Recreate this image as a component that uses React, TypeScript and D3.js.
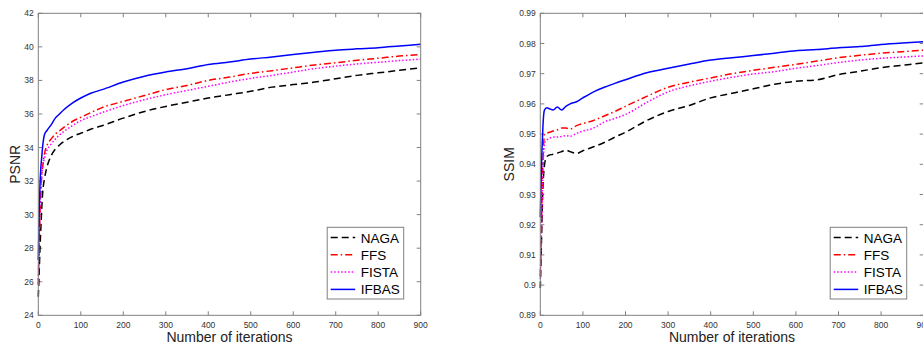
import React from 'react';
import * as d3 from 'd3';

const psnrIters = [0, 2, 4, 6, 8, 10, 15, 20, 30, 40, 50, 60, 80, 100, 125, 150, 200, 250, 300, 350, 400, 450, 500, 550, 600, 650, 700, 750, 800, 850, 900];
const psnrNaga = [25.1, 26.5, 28, 29.2, 30.3, 31.2, 32.2, 32.8, 33.5, 33.9, 34.15, 34.35, 34.65, 34.85, 35.1, 35.3, 35.75, 36.15, 36.45, 36.7, 36.95, 37.15, 37.35, 37.6, 37.75, 37.9, 38.1, 38.3, 38.45, 38.6, 38.76];
const psnrFfs = [25.8, 28, 30, 31.3, 32.3, 32.8, 33.7, 34.1, 34.5, 34.8, 35.0, 35.2, 35.55, 35.8, 36.1, 36.38, 36.75, 37.1, 37.45, 37.7, 38.0, 38.2, 38.42, 38.58, 38.75, 38.92, 39.05, 39.2, 39.32, 39.45, 39.55];
const psnrFista = [25.9, 28.5, 30.3, 31.5, 32.3, 32.8, 33.4, 33.8, 34.2, 34.5, 34.75, 34.95, 35.3, 35.6, 35.85, 36.08, 36.5, 36.85, 37.15, 37.4, 37.65, 37.9, 38.12, 38.3, 38.5, 38.7, 38.85, 38.98, 39.08, 39.18, 39.27];
const psnrIfbas = [27.3, 30, 31.8, 32.8, 33.4, 34.0, 34.8, 35.0, 35.35, 35.75, 36.0, 36.25, 36.65, 36.95, 37.25, 37.45, 37.9, 38.25, 38.5, 38.7, 38.95, 39.1, 39.27, 39.4, 39.55, 39.68, 39.8, 39.88, 39.95, 40.05, 40.15];

const ssimIters = [0, 2, 4, 6, 8, 10, 15, 20, 30, 40, 50, 60, 70, 85, 100, 125, 150, 175, 200, 250, 300, 350, 400, 450, 500, 550, 600, 650, 700, 750, 800, 850, 900];
const ssimNaga = [0.899, 0.91, 0.922, 0.932, 0.937, 0.94, 0.9425, 0.943, 0.9433, 0.9437, 0.9442, 0.9447, 0.9442, 0.9436, 0.9445, 0.9458, 0.9472, 0.949, 0.9506, 0.9545, 0.9575, 0.9595, 0.962, 0.9635, 0.965, 0.9665, 0.9675, 0.968, 0.9697, 0.9708, 0.972, 0.9728, 0.9736];
const ssimFfs = [0.903, 0.915, 0.928, 0.94, 0.947, 0.95, 0.9503, 0.9505, 0.951, 0.9514, 0.952, 0.952, 0.9517, 0.9528, 0.9535, 0.9545, 0.956, 0.9575, 0.9592, 0.9625, 0.9655, 0.9672, 0.9686, 0.97, 0.9711, 0.9721, 0.9731, 0.9742, 0.9753, 0.9761, 0.9768, 0.9773, 0.9778];
const ssimFista = [0.902, 0.913, 0.926, 0.937, 0.944, 0.947, 0.948, 0.9485, 0.949, 0.949, 0.9492, 0.9495, 0.9493, 0.9502, 0.951, 0.952, 0.954, 0.9552, 0.9565, 0.9605, 0.964, 0.966, 0.9675, 0.9688, 0.9699, 0.9707, 0.9718, 0.9727, 0.9737, 0.9745, 0.9751, 0.9755, 0.9759];
const ssimIfbas = [0.9225, 0.935, 0.945, 0.952, 0.9565, 0.958, 0.9587, 0.9585, 0.958, 0.959, 0.958, 0.9592, 0.96, 0.9607, 0.962, 0.964, 0.9655, 0.9668, 0.968, 0.9703, 0.9718, 0.9732, 0.9745, 0.9753, 0.976, 0.9768, 0.9776, 0.978, 0.9786, 0.979, 0.9797, 0.9802, 0.9806];

const xTicks = [0, 100, 200, 300, 400, 500, 600, 700, 800, 900];
const psnrTicks = [24, 26, 28, 30, 32, 34, 36, 38, 40, 42];
const ssimTicks = [0.89, 0.9, 0.91, 0.92, 0.93, 0.94, 0.95, 0.96, 0.97, 0.98, 0.99];
const seriesNames = ['NAGA', 'FFS', 'FISTA', 'IFBAS'];

const lineStyles = [
  { color: '#000000', dash: '7,4' },
  { color: '#ff0000', dash: '7,3,1.5,3' },
  { color: '#ff00ff', dash: '1.5,2' },
  { color: '#0000ff', dash: undefined },
];

const FONT = 'Liberation Sans, Arial, Helvetica, sans-serif';
const AXIS = '#808080';
const TOP = 13.3;
const BOTTOM = 315.3;

interface PanelProps {
  x0: number;
  x1: number;
  iters: number[];
  series: number[][];
  yDomain: [number, number];
  yTicks: number[];
  yLabel: string;
  yLabelX: number;
}

function Panel({ x0, x1, iters, series, yDomain, yTicks, yLabel, yLabelX }: PanelProps) {
  const x = d3.scaleLinear().domain([0, 900]).range([x0, x1]);
  const y = d3.scaleLinear().domain(yDomain).range([BOTTOM, TOP]);
  const tick = 4;

  const line = (vals: number[]) =>
    d3.line<number>()
      .x((_, i) => x(iters[i]))
      .y(d => y(d))
      .curve(d3.curveMonotoneX)(vals) || '';

  // legend sits in the lower right corner
  const legRight = x1 - 17;
  const legLeft = legRight - 76.5;
  const legTop = 227.3;
  const legBottom = 299;
  const rowY = (i: number) => 237.5 + i * 17.3;

  return (
    <g>
      {/* grid-free box with inward ticks on all four sides */}
      {xTicks.map(t => (
        <g key={'xt' + t}>
          <line x1={x(t)} x2={x(t)} y1={BOTTOM} y2={BOTTOM - tick} stroke={AXIS} />
          <line x1={x(t)} x2={x(t)} y1={TOP} y2={TOP + tick} stroke={AXIS} />
          <text x={x(t)} y={327.5} textAnchor="middle" fontSize={8.5} fill="#333">{t}</text>
        </g>
      ))}
      {yTicks.map(t => (
        <g key={'yt' + t}>
          <line x1={x0} x2={x0 + tick} y1={y(t)} y2={y(t)} stroke={AXIS} />
          <line x1={x1} x2={x1 - tick} y1={y(t)} y2={y(t)} stroke={AXIS} />
          <text x={x0 - 4.5} y={y(t) + 3} textAnchor="end" fontSize={8.5} fill="#333">{d3.format('~g')(t)}</text>
        </g>
      ))}

      {series.map((vals, i) => (
        <path
          key={seriesNames[i]}
          d={line(vals)}
          fill="none"
          stroke={lineStyles[i].color}
          strokeWidth={1.5}
          strokeDasharray={lineStyles[i].dash}
        />
      ))}

      <rect x={x0} y={TOP} width={x1 - x0} height={BOTTOM - TOP} fill="none" stroke={AXIS} />

      <text x={(x0 + x1) / 2} y={342} textAnchor="middle" fontSize={14} fill="#222">Number of iterations</text>
      <text transform={`translate(${yLabelX},${(TOP + BOTTOM) / 2}) rotate(-90)`} textAnchor="middle" fontSize={14} fill="#222">{yLabel}</text>

      <rect x={legLeft} y={legTop} width={legRight - legLeft} height={legBottom - legTop} fill="#fff" stroke={AXIS} />
      {seriesNames.map((name, i) => (
        <g key={'leg' + name}>
          <line x1={legLeft + 3.5} x2={legLeft + 28} y1={rowY(i)} y2={rowY(i)} stroke={lineStyles[i].color} strokeWidth={1.5} strokeDasharray={lineStyles[i].dash} />
          <text x={legLeft + 33.5} y={rowY(i) + 5} fontSize={13.5} fill="#000">{name}</text>
        </g>
      ))}
    </g>
  );
}

export default function App() {
  return (
    <svg width={923} height={346} style={{ position: 'absolute', left: 0, top: 0, background: '#fff' }} fontFamily={FONT}>
      <Panel
        x0={38.3}
        x1={420.7}
        iters={psnrIters}
        series={[psnrNaga, psnrFfs, psnrFista, psnrIfbas]}
        yDomain={[24, 42]}
        yTicks={psnrTicks}
        yLabel="PSNR"
        yLabelX={20}
      />
      <Panel
        x0={540.3}
        x1={923.7}
        iters={ssimIters}
        series={[ssimNaga, ssimFfs, ssimFista, ssimIfbas]}
        yDomain={[0.89, 0.99]}
        yTicks={ssimTicks}
        yLabel="SSIM"
        yLabelX={514}
      />
    </svg>
  );
}
